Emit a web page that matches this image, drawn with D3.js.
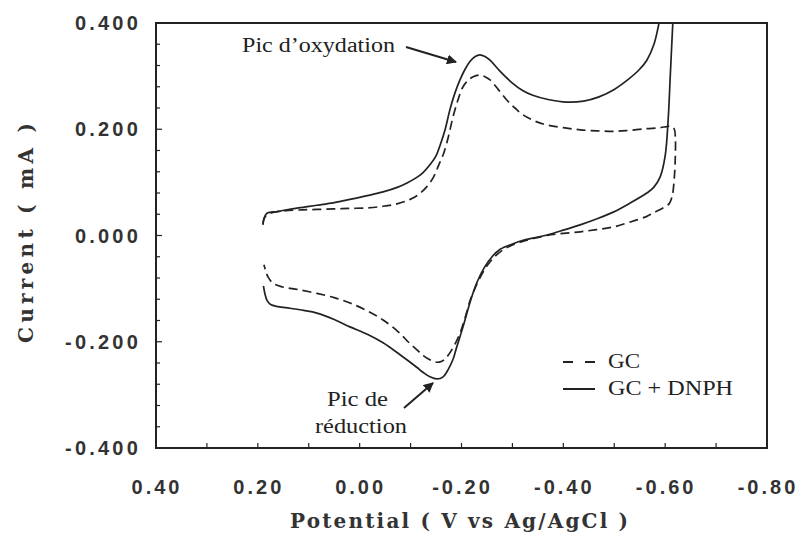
<!DOCTYPE html>
<html><head><meta charset="utf-8">
<script src="https://cdn.jsdelivr.net/npm/d3@7/dist/d3.min.js"></script>
<style>body{margin:0;background:#fff}svg{display:block}</style>
</head><body>
<svg id="chart" width="801" height="533"></svg>
<script>
// ---- data (potential in V vs Ag/AgCl, current in mA) ----
const xTicks = [0.40, 0.20, 0.00, -0.20, -0.40, -0.60, -0.80];
const yTicks = [0.400, 0.200, 0.000, -0.200, -0.400];
const seriesNames = ["GC", "GC + DNPH"];

const gcPotential = [0.190,0.186,0.175,0.151,0.120,0.084,0.050,0.019,-0.015,-0.046,-0.075,-0.099,-0.117,-0.132,-0.145,-0.155,-0.164,-0.174,-0.183,-0.193,-0.203,-0.213,-0.223,-0.236,-0.246,-0.256,-0.272,-0.289,-0.305,-0.321,-0.345,-0.368,-0.400,-0.433,-0.466,-0.498,-0.530,-0.564,-0.590,-0.603,-0.612,-0.618,-0.620,-0.620,-0.618,-0.614,-0.608,-0.598,-0.580,-0.564,-0.530,-0.498,-0.465,-0.433,-0.400,-0.368,-0.340,-0.320,-0.300,-0.280,-0.262,-0.248,-0.236,-0.225,-0.217,-0.207,-0.197,-0.187,-0.177,-0.168,-0.158,-0.148,-0.138,-0.125,-0.112,-0.095,-0.079,-0.046,-0.015,0.019,0.050,0.084,0.120,0.151,0.170,0.180,0.185,0.188];
const gcCurrent = [0.022,0.035,0.042,0.046,0.048,0.049,0.050,0.051,0.052,0.055,0.060,0.068,0.078,0.092,0.110,0.132,0.152,0.185,0.222,0.255,0.280,0.292,0.299,0.302,0.299,0.293,0.275,0.255,0.240,0.227,0.215,0.208,0.203,0.199,0.197,0.196,0.198,0.201,0.203,0.205,0.206,0.200,0.185,0.150,0.110,0.075,0.060,0.053,0.044,0.036,0.025,0.016,0.011,0.007,0.004,0.000,-0.006,-0.011,-0.018,-0.028,-0.043,-0.060,-0.080,-0.103,-0.122,-0.155,-0.184,-0.205,-0.221,-0.232,-0.238,-0.238,-0.234,-0.226,-0.215,-0.200,-0.184,-0.159,-0.142,-0.127,-0.117,-0.109,-0.102,-0.097,-0.090,-0.078,-0.065,-0.055];

const dnphPotential = [0.190,0.188,0.182,0.162,0.151,0.120,0.084,0.050,0.019,-0.015,-0.046,-0.075,-0.093,-0.110,-0.124,-0.138,-0.150,-0.158,-0.168,-0.177,-0.187,-0.197,-0.207,-0.217,-0.227,-0.236,-0.246,-0.256,-0.275,-0.300,-0.320,-0.340,-0.370,-0.407,-0.440,-0.470,-0.500,-0.525,-0.548,-0.564,-0.578,-0.588,-0.597,-0.607,-0.615,-0.618,-0.616,-0.615,-0.610,-0.606,-0.600,-0.590,-0.577,-0.564,-0.531,-0.498,-0.465,-0.433,-0.400,-0.368,-0.340,-0.321,-0.300,-0.276,-0.260,-0.245,-0.230,-0.217,-0.203,-0.190,-0.183,-0.174,-0.164,-0.152,-0.138,-0.125,-0.112,-0.080,-0.046,-0.015,0.019,0.050,0.084,0.110,0.137,0.160,0.175,0.182,0.186,0.189];
const dnphCurrent = [0.020,0.032,0.042,0.045,0.047,0.052,0.057,0.062,0.068,0.075,0.082,0.091,0.099,0.108,0.118,0.133,0.150,0.170,0.200,0.236,0.268,0.293,0.313,0.328,0.337,0.340,0.337,0.330,0.310,0.287,0.273,0.264,0.256,0.251,0.253,0.261,0.275,0.292,0.311,0.330,0.360,0.400,0.440,0.480,0.500,0.480,0.420,0.400,0.300,0.220,0.150,0.110,0.090,0.080,0.061,0.044,0.031,0.020,0.010,0.001,-0.005,-0.009,-0.016,-0.026,-0.040,-0.060,-0.089,-0.125,-0.172,-0.212,-0.234,-0.252,-0.266,-0.270,-0.266,-0.258,-0.248,-0.225,-0.202,-0.186,-0.172,-0.158,-0.146,-0.141,-0.137,-0.134,-0.130,-0.122,-0.110,-0.095];

// ---- layout ----
const svg = d3.select("#chart");
const L = 156, R = 767, T = 23, B = 448;
const x = d3.scaleLinear().domain([0.40, -0.80]).range([L, R]);
const y = d3.scaleLinear().domain([-0.4, 0.4]).range([B, T]);
const ink = "#222";
const sans = "'Liberation Sans', Arial, sans-serif";
const serif = "'Liberation Serif', 'Times New Roman', serif";
const wideSerif = "'DejaVu Serif', 'Liberation Serif', serif";
const hy = s => s.replace("\u2212", "-");

svg.append("defs").append("clipPath").attr("id","plotclip")
  .append("rect").attr("x", L).attr("y", T).attr("width", R-L).attr("height", B-T);

// minor/major ticks (inside)
const yMinor = d3.range(-0.4, 0.4001, 0.04);
svg.append("g").selectAll("line").data(yMinor).join("line")
  .attr("x1", L).attr("x2", d => Math.abs((Math.round(d*100)/100) % 0.2) < 1e-6 ? L+6 : L+4)
  .attr("y1", d => y(d)).attr("y2", d => y(d))
  .attr("stroke", ink).attr("stroke-width", 1.2);
const xMinor = d3.range(0.4, -0.8001, -0.1);
svg.append("g").selectAll("line").data(xMinor).join("line")
  .attr("x1", d => x(d)).attr("x2", d => x(d))
  .attr("y1", B).attr("y2", B-5)
  .attr("stroke", ink).attr("stroke-width", 1.2);

// frame
svg.append("rect").attr("x", L).attr("y", T).attr("width", R-L).attr("height", B-T)
  .attr("fill","none").attr("stroke", ink).attr("stroke-width", 2);

// tick labels
svg.append("g").selectAll("text").data(yTicks).join("text")
  .attr("x", 141).attr("y", d => y(d)).attr("dy", "0.36em")
  .attr("text-anchor","end")
  .style("font-family", sans)
  .style("font-weight","bold").style("font-size","20px").style("letter-spacing","3.2px")
  .attr("fill","#333")
  .text(d => hy(d3.format(".3f")(d)));
svg.append("g").selectAll("text").data(xTicks).join("text")
  .attr("x", d => x(d) + 1).attr("y", 494)
  .attr("text-anchor","middle")
  .style("font-family", sans)
  .style("font-weight","bold").style("font-size","20px").style("letter-spacing","3px")
  .attr("fill","#333")
  .text(d => hy(d3.format(".2f")(d)));

// axis titles
svg.append("text").attr("transform","translate(33,233) rotate(-90)")
  .attr("text-anchor","middle")
  .attr("textLength", 220).attr("lengthAdjust","spacing")
  .style("font-family", wideSerif)
  .style("font-weight","bold").style("font-size","20px")
  .attr("fill","#333").text("Current ( mA )");
svg.append("text").attr("x", 459).attr("y", 528)
  .attr("text-anchor","middle")
  .attr("textLength", 338).attr("lengthAdjust","spacing")
  .style("font-family", wideSerif)
  .style("font-weight","bold").style("font-size","20px")
  .attr("fill","#333").text("Potential ( V vs Ag/AgCl )");

// curves
const line = d3.line().x(d => x(d[0])).y(d => y(d[1])).curve(d3.curveCatmullRom.alpha(0.5));
const gcData = d3.zip(gcPotential, gcCurrent);
const dnphData = d3.zip(dnphPotential, dnphCurrent);
const plot = svg.append("g").attr("clip-path","url(#plotclip)");
plot.append("path").attr("d", line(gcData)).attr("fill","none")
  .attr("stroke", ink).attr("stroke-width", 1.7).attr("stroke-dasharray","9,5");
plot.append("path").attr("d", line(dnphData)).attr("fill","none")
  .attr("stroke", ink).attr("stroke-width", 1.7);

// annotations
svg.append("defs").append("marker").attr("id","arr").attr("viewBox","0 0 10 10")
  .attr("refX",9).attr("refY",5).attr("markerWidth",5).attr("markerHeight",5).attr("orient","auto")
  .append("path").attr("d","M0,0 L10,5 L0,10 z").attr("fill", ink);
svg.append("text").attr("x", 242).attr("y", 52)
  .attr("textLength", 153).attr("lengthAdjust","spacingAndGlyphs")
  .style("font-family", serif).style("font-size","20px").attr("fill","#222")
  .text("Pic d\u2019oxydation");
svg.append("line").attr("x1",406).attr("y1",47).attr("x2",456).attr("y2",62)
  .attr("stroke",ink).attr("stroke-width",2).attr("marker-end","url(#arr)");
svg.append("text").attr("x", 327).attr("y", 406)
  .attr("textLength", 61).attr("lengthAdjust","spacingAndGlyphs")
  .style("font-family", serif).style("font-size","20px").attr("fill","#222").text("Pic de");
svg.append("text").attr("x", 315).attr("y", 433)
  .attr("textLength", 92).attr("lengthAdjust","spacingAndGlyphs")
  .style("font-family", serif).style("font-size","20px").attr("fill","#222").text("réduction");
svg.append("line").attr("x1",404).attr("y1",408).attr("x2",433).attr("y2",383)
  .attr("stroke",ink).attr("stroke-width",2).attr("marker-end","url(#arr)");

// legend
const legend = svg.append("g");
const legY = [362, 389];
const legW = [32, 125];
legend.selectAll("line").data(seriesNames).join("line")
  .attr("x1", 563).attr("x2", 595).attr("y1", (d,i) => legY[i]).attr("y2", (d,i) => legY[i])
  .attr("stroke", ink).attr("stroke-width", 2)
  .attr("stroke-dasharray", (d,i) => i === 0 ? "10,12" : null);
legend.selectAll("text").data(seriesNames).join("text")
  .attr("x", 608).attr("y", (d,i) => legY[i] + 6)
  .attr("textLength", (d,i) => legW[i]).attr("lengthAdjust","spacingAndGlyphs")
  .style("font-family", serif).style("font-size","20px").attr("fill","#222")
  .text(d => d);
</script>
</body></html>
